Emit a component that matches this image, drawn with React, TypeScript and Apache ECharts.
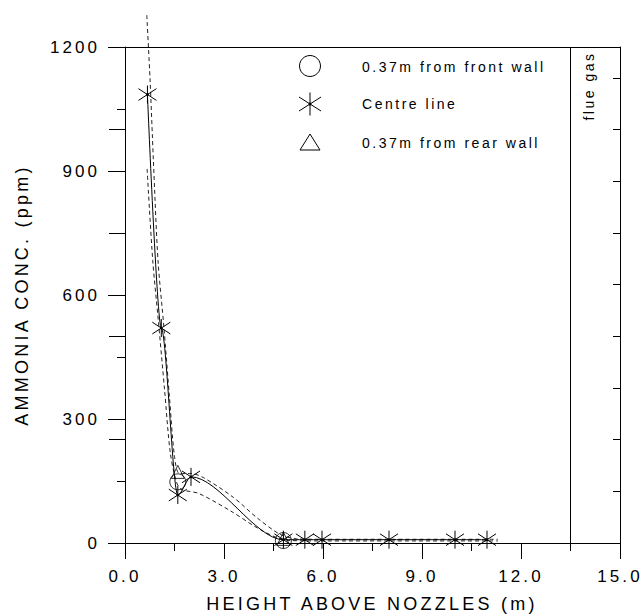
import { useEffect, useRef } from 'react';
import * as echarts from 'echarts';

const FONT = "'Liberation Sans', Arial, Helvetica, sans-serif";

// Axis tick labels
const xTickLabels = ['0.0', '3.0', '6.0', '9.0', '12.0', '15.0'];
const yTickLabels = ['0', '300', '600', '900', '1200'];

// Axis titles and annotations
const xAxisTitle = 'HEIGHT ABOVE NOZZLES (m)';
const yAxisTitle = 'AMMONIA CONC. (ppm)';
const flueGasLabel = 'flue gas';
const flueGasBoundary = 13.5;

// Legend names
const frontWallName = '0.37m from front wall';
const centreName = 'Centre line';
const rearWallName = '0.37m from rear wall';

// Centre line measurements (height m, ammonia ppm)
const centreHeight = [0.68, 1.1, 1.6, 2.0, 4.8, 5.45, 5.97, 8.0, 10.0, 10.97];
const centreConc = [1085, 520, 116, 160, 8, 8, 8, 8, 8, 8];

// Front wall measurements
const frontHeight = [1.6, 4.8];
const frontConc = [148, 6];

// Rear wall measurements
const rearHeight = [1.6, 4.8];
const rearConc = [172, 10];

// Dashed profile curves bracketing the centre line
const upperCurveHeight = [0.66, 0.76, 0.86, 1.0, 1.18, 1.35, 1.5, 1.65, 2.0, 2.38, 3.29, 4.0, 4.7, 5.2, 6.0, 8.0, 10.0, 11.3];
const upperCurveConc = [1277, 1120, 926, 684, 521, 350, 210, 168, 168, 158, 110, 61, 21, 10, 9, 9, 9, 9];
const lowerCurveHeight = [0.67, 0.84, 1.01, 1.2, 1.37, 1.55, 1.7, 2.23, 3.19, 4.0, 4.6, 5.0, 6.0, 8.0, 10.0, 11.3];
const lowerCurveConc = [905, 684, 538, 370, 220, 150, 130, 120, 78, 37, 13, 6, 5, 5, 5, 5];

const zip = (xs: number[], ys: number[]) => xs.map((x, i) => [x, ys[i]]);

// Six-armed asterisk with a centre dot
const ASTERISK = 'path://M11,0L11,23M0,4L22,19M0,19L22,4M10,10.5L12,10.5L12,12.5L10,12.5Z';

const black = '#000';

const textStyle = (size: number, extra: Record<string, unknown> = {}) => ({
  text: '',
  fontSize: size,
  fontFamily: FONT,
  fill: black,
  align: 'center',
  verticalAlign: 'middle',
  textAlign: 'center',
  textVerticalAlign: 'middle',
  ...extra,
});

const legendGraphic = () => {
  const cx = 310;
  const textX = 362;
  const rows = [66, 104, 142];
  return [
    { type: 'circle', shape: { cx, cy: rows[0], r: 10.5 }, style: { fill: 'none', stroke: black, lineWidth: 1 } },
    { type: 'line', shape: { x1: cx, y1: rows[1] - 11.5, x2: cx, y2: rows[1] + 11.5 }, style: { stroke: black, lineWidth: 1 } },
    { type: 'line', shape: { x1: cx - 11, y1: rows[1] - 7, x2: cx + 11, y2: rows[1] + 7 }, style: { stroke: black, lineWidth: 1 } },
    { type: 'line', shape: { x1: cx - 11, y1: rows[1] + 7, x2: cx + 11, y2: rows[1] - 7 }, style: { stroke: black, lineWidth: 1 } },
    { type: 'circle', shape: { cx, cy: rows[1], r: 1.5 }, style: { fill: black } },
    {
      type: 'polygon',
      shape: { points: [[cx - 10, rows[2] + 8], [cx + 10, rows[2] + 8], [cx, rows[2] - 8]] },
      style: { fill: 'none', stroke: black, lineWidth: 1 },
    },
    { type: 'text', x: textX, y: rows[0] + 1, style: textStyle(14, { text: frontWallName, align: 'left', textAlign: 'left' }) },
    { type: 'text', x: textX, y: rows[1], style: textStyle(14, { text: centreName, align: 'left', textAlign: 'left' }) },
    { type: 'text', x: textX, y: rows[2] + 1, style: textStyle(14, { text: rearWallName, align: 'left', textAlign: 'left' }) },
  ];
};

const axisLineStyle = { color: black, width: 1 };

const option = {
  animation: false,
  backgroundColor: '#fff',
  grid: { left: 125, right: 22, top: 47, bottom: 72 },
  xAxis: [
    {
      type: 'value',
      min: 0,
      max: 15,
      interval: 3,
      position: 'bottom',
      axisLine: { show: true, onZero: false, lineStyle: axisLineStyle },
      axisTick: { show: true, length: 16, lineStyle: axisLineStyle },
      minorTick: { show: true, splitNumber: 2, length: 8, lineStyle: axisLineStyle },
      splitLine: { show: false },
      minorSplitLine: { show: false },
      axisLabel: {
        color: black,
        fontSize: 17,
        fontFamily: FONT,
        margin: 25,
        formatter: (v: number) => xTickLabels[Math.round(v / 3)] ?? '',
      },
    },
    {
      type: 'value',
      min: 0,
      max: 15,
      position: 'top',
      axisLine: { show: true, onZero: false, lineStyle: axisLineStyle },
      axisTick: { show: false },
      axisLabel: { show: false },
      splitLine: { show: false },
    },
  ],
  yAxis: [
    {
      type: 'value',
      min: 0,
      max: 1200,
      interval: 300,
      position: 'left',
      axisLine: { show: true, onZero: false, lineStyle: axisLineStyle },
      axisTick: { show: true, length: 17, lineStyle: axisLineStyle },
      minorTick: { show: true, splitNumber: 2, length: 8, lineStyle: axisLineStyle },
      splitLine: { show: false },
      minorSplitLine: { show: false },
      axisLabel: {
        color: black,
        fontSize: 17,
        fontFamily: FONT,
        margin: 25,
        formatter: (v: number) => yTickLabels[Math.round(v / 300)] ?? '',
      },
    },
    {
      type: 'value',
      min: 0,
      max: 9.6,
      interval: 1,
      position: 'right',
      axisLine: { show: true, onZero: false, lineStyle: axisLineStyle },
      axisTick: { show: true, inside: true, length: 7, lineStyle: axisLineStyle },
      axisLabel: { show: false },
      splitLine: { show: false },
    },
    {
      type: 'value',
      min: 0,
      max: 9.6,
      interval: 2,
      position: 'right',
      axisLine: { show: false },
      axisTick: { show: true, inside: true, length: 16, lineStyle: axisLineStyle },
      axisLabel: { show: false },
      splitLine: { show: false },
    },
  ],
  series: [
    {
      name: 'upper profile',
      type: 'line',
      data: zip(upperCurveHeight, upperCurveConc),
      symbol: 'none',
      smooth: 0.3,
      clip: false,
      lineStyle: { color: '#222', width: 1, type: [4, 3] },
      z: 2,
    },
    {
      name: 'lower profile',
      type: 'line',
      data: zip(lowerCurveHeight, lowerCurveConc),
      symbol: 'none',
      smooth: 0.3,
      clip: false,
      lineStyle: { color: '#222', width: 1, type: [4, 3] },
      z: 2,
    },
    {
      name: centreName,
      type: 'line',
      data: zip(centreHeight, centreConc),
      symbol: ASTERISK,
      symbolSize: [18, 18],
      smooth: 0.3,
      smoothMonotone: 'x',
      clip: false,
      itemStyle: { color: black, borderColor: black, borderWidth: 1 },
      lineStyle: { color: black, width: 1 },
      z: 3,
      markLine: {
        silent: true,
        symbol: ['none', 'none'],
        label: { show: false },
        lineStyle: { color: black, width: 1, type: 'solid' },
        data: [{ xAxis: flueGasBoundary }],
      },
    },
    {
      name: frontWallName,
      type: 'scatter',
      data: zip(frontHeight, frontConc),
      symbol: 'circle',
      symbolSize: 16,
      itemStyle: { color: 'transparent', borderColor: black, borderWidth: 1 },
      z: 4,
    },
    {
      name: rearWallName,
      type: 'scatter',
      data: zip(rearHeight, rearConc),
      symbol: 'triangle',
      symbolSize: 13,
      itemStyle: { color: 'transparent', borderColor: black, borderWidth: 1 },
      z: 4,
    },
  ],
  graphic: [
    { type: 'text', x: 372, y: 604, style: textStyle(18, { text: xAxisTitle }) },
    { type: 'text', x: 22, y: 295, rotation: Math.PI / 2, style: textStyle(18, { text: yAxisTitle }) },
    { type: 'text', x: 589, y: 86, rotation: Math.PI / 2, style: textStyle(14, { text: flueGasLabel }) },
    ...legendGraphic(),
  ],
};

export default function App() {
  const ref = useRef<HTMLDivElement>(null);

  useEffect(() => {
    document.body.style.margin = '0';
    const el = ref.current;
    if (!el) return;
    const chart = echarts.init(el, undefined, { renderer: 'svg' });
    chart.setOption(option as any);

    // Widen the letter spacing of every label
    const spaceText = () => {
      el.querySelectorAll('text').forEach((t) => {
        (t as SVGTextElement).style.letterSpacing = '0.18em';
      });
    };
    spaceText();
    chart.on('finished', spaceText);
    const raf = requestAnimationFrame(spaceText);

    return () => {
      cancelAnimationFrame(raf);
      chart.dispose();
    };
  }, []);

  return <div ref={ref} style={{ width: 642, height: 615 }} />;
}
